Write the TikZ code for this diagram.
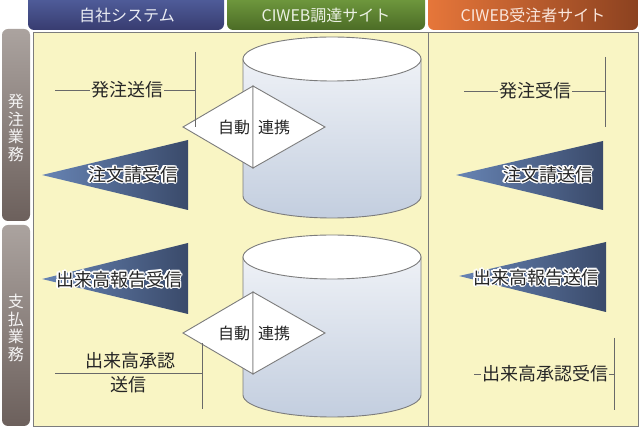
\documentclass[tikz,border=0pt]{standalone}
\usepackage{fontspec}
\usepackage{contour}
\newfontfamily\jpfont{Noto Sans CJK JP}
\contourlength{1.2pt}

\definecolor{panel}{HTML}{F9F5C4}
\definecolor{edge}{HTML}{7C7C7C}
\definecolor{ownA}{HTML}{5666A6}
\definecolor{ownB}{HTML}{383C70}
\definecolor{buyA}{HTML}{78A444}
\definecolor{buyB}{HTML}{4C6C26}
\definecolor{sellA}{HTML}{E6763A}
\definecolor{sellB}{HTML}{8C4220}
\definecolor{rowA}{HTML}{ABA39F}
\definecolor{rowB}{HTML}{6C605C}
\definecolor{cylA}{HTML}{EEF1F6}
\definecolor{cylB}{HTML}{C3CEDF}
\definecolor{triA}{HTML}{6784B4}
\definecolor{triB}{HTML}{3A4A6A}

\tikzset{
  hdrtxt/.style={font=\jpfont\fontsize{16}{18}\selectfont, inner sep=0pt},
  rowtxt/.style={font=\jpfont\fontsize{16}{17.5}\selectfont, align=center, text=white!88!rowA, inner sep=0pt},
  lbl/.style={font=\jpfont\fontsize{18}{20}\selectfont, inner sep=1pt, text=black!85},
  dtxt/.style={font=\jpfont\fontsize{16}{18}\selectfont, inner sep=0pt, text=black!85},
  wire/.style={edge!85!black, line width=0.9pt},
  arrowtri/.style={left color=triA, right color=triB},
  halfdia/.style={draw=edge, fill=white, line width=0.9pt, line join=miter}
}

\begin{document}
\begin{tikzpicture}[x=1pt,y=-1pt]
\clip (0,0) rectangle (640,427);

% column headers
\shade[rounded corners=6pt, top color=ownA, bottom color=ownB] (28,-10) rectangle (224,30);
\node[hdrtxt, text=white!88!ownA] (hown) at (127,15) {自社システム};
\shade[rounded corners=6pt, top color=buyA, bottom color=buyB] (227,-10) rectangle (425,30);
\node[hdrtxt, text=white!85!buyA] (hbuy) at (326,15) {CIWEB調達サイト};
\shade[rounded corners=6pt, left color=sellA, right color=sellB] (428,-10) rectangle (638,30);
\node[hdrtxt, text=white!82!sellA] (hsell) at (533,15) {CIWEB受注者サイト};

% row tabs
\shade[rounded corners=6pt, top color=rowA, bottom color=rowB] (2,29) rectangle (30,221);
\node[rowtxt] (rord) at (16,128) {発\\注\\業\\務};
\shade[rounded corners=6pt, top color=rowA, bottom color=rowB] (2,225) rectangle (30,426);
\node[rowtxt] (rpay) at (16,328) {支\\払\\業\\務};

% panel
\draw[edge, fill=panel] (33,32) rectangle (638,426);
\draw[edge] (428,32) -- (428,426);

% databases
\foreach \top/\bot in {59/196,257/395} {
  \draw[edge, line width=0.9pt, top color=cylA, bottom color=cylB] (243,\top) -- (243,\bot)
    arc[start angle=180, end angle=360, x radius=89pt, y radius=22pt] -- (421,\top) -- cycle;
  \draw[edge, line width=0.9pt, fill=white] (332,\top) ellipse[x radius=89pt, y radius=22pt];
}

% link diamonds
\coordinate (d1l) at (183,127); \coordinate (d1t) at (253,86);
\coordinate (d1b) at (253,168); \coordinate (d1r) at (325,127);
\draw[halfdia] (d1l) -- (d1t) -- (d1b) -- cycle;
\draw[halfdia] (d1t) -- (d1r) -- (d1b) -- cycle;
\node[dtxt] (auto1) at (234,127) {自動};
\node[dtxt] (link1) at (274,127) {連携};

\coordinate (d2l) at (183,333); \coordinate (d2t) at (253,292);
\coordinate (d2b) at (253,374); \coordinate (d2r) at (325,333);
\draw[halfdia] (d2l) -- (d2t) -- (d2b) -- cycle;
\draw[halfdia] (d2t) -- (d2r) -- (d2b) -- cycle;
\node[dtxt] (auto2) at (234,333) {自動};
\node[dtxt] (link2) at (274,333) {連携};

% order send / receive
\coordinate (os1) at (55,90); \coordinate (os2) at (195,90);
\coordinate (os3) at (195,52); \coordinate (os4) at (195,127);
\draw[wire] (os1) -- (os2);
\draw[wire] (os3) -- (os4);
\node[lbl, fill=panel] (ordsend) at (127,90) {発注送信};

\coordinate (or1) at (464,91); \coordinate (or2) at (605,91);
\coordinate (or3) at (605,57); \coordinate (or4) at (605,127);
\draw[wire] (or1) -- (or2);
\draw[wire] (or3) -- (or4);
\node[lbl, fill=panel] (ordrecv) at (535,91) {発注受信};

% order confirmations
\shade[arrowtri] (42,175) -- (188,140) -- (188,210) -- cycle;
\node[lbl] (confrecv) at (133,175) {\contour{white}{注文請受信}};
\shade[arrowtri] (456,175) -- (603,141) -- (603,210) -- cycle;
\node[lbl] (confsend) at (548,175) {\contour{white}{注文請送信}};

% progress reports
\shade[arrowtri] (42,279) -- (188,243) -- (188,314) -- cycle;
\node[lbl] (reprecv) at (119,280) {\contour{white}{出来高報告受信}};
\shade[arrowtri] (459,276) -- (606,242) -- (606,312) -- cycle;
\node[lbl] (repsend) at (536,278) {\contour{white}{出来高報告送信}};

% approvals
\coordinate (as1) at (55,373); \coordinate (as2) at (202,373);
\coordinate (as3) at (202,343); \coordinate (as4) at (202,409);
\draw[wire] (as1) -- (as2);
\draw[wire] (as3) -- (as4);
\node[lbl] (apsend1) at (130,361) {出来高承認};
\node[lbl] (apsend2) at (128,385) {送信};

\coordinate (ar1) at (474,374); \coordinate (ar2) at (614,374);
\coordinate (ar3) at (614,338); \coordinate (ar4) at (614,410);
\draw[wire] (ar1) -- (ar2);
\draw[wire] (ar3) -- (ar4);
\node[lbl, fill=panel] (aprecv) at (545,374) {出来高承認受信};
\end{tikzpicture}
\end{document}
